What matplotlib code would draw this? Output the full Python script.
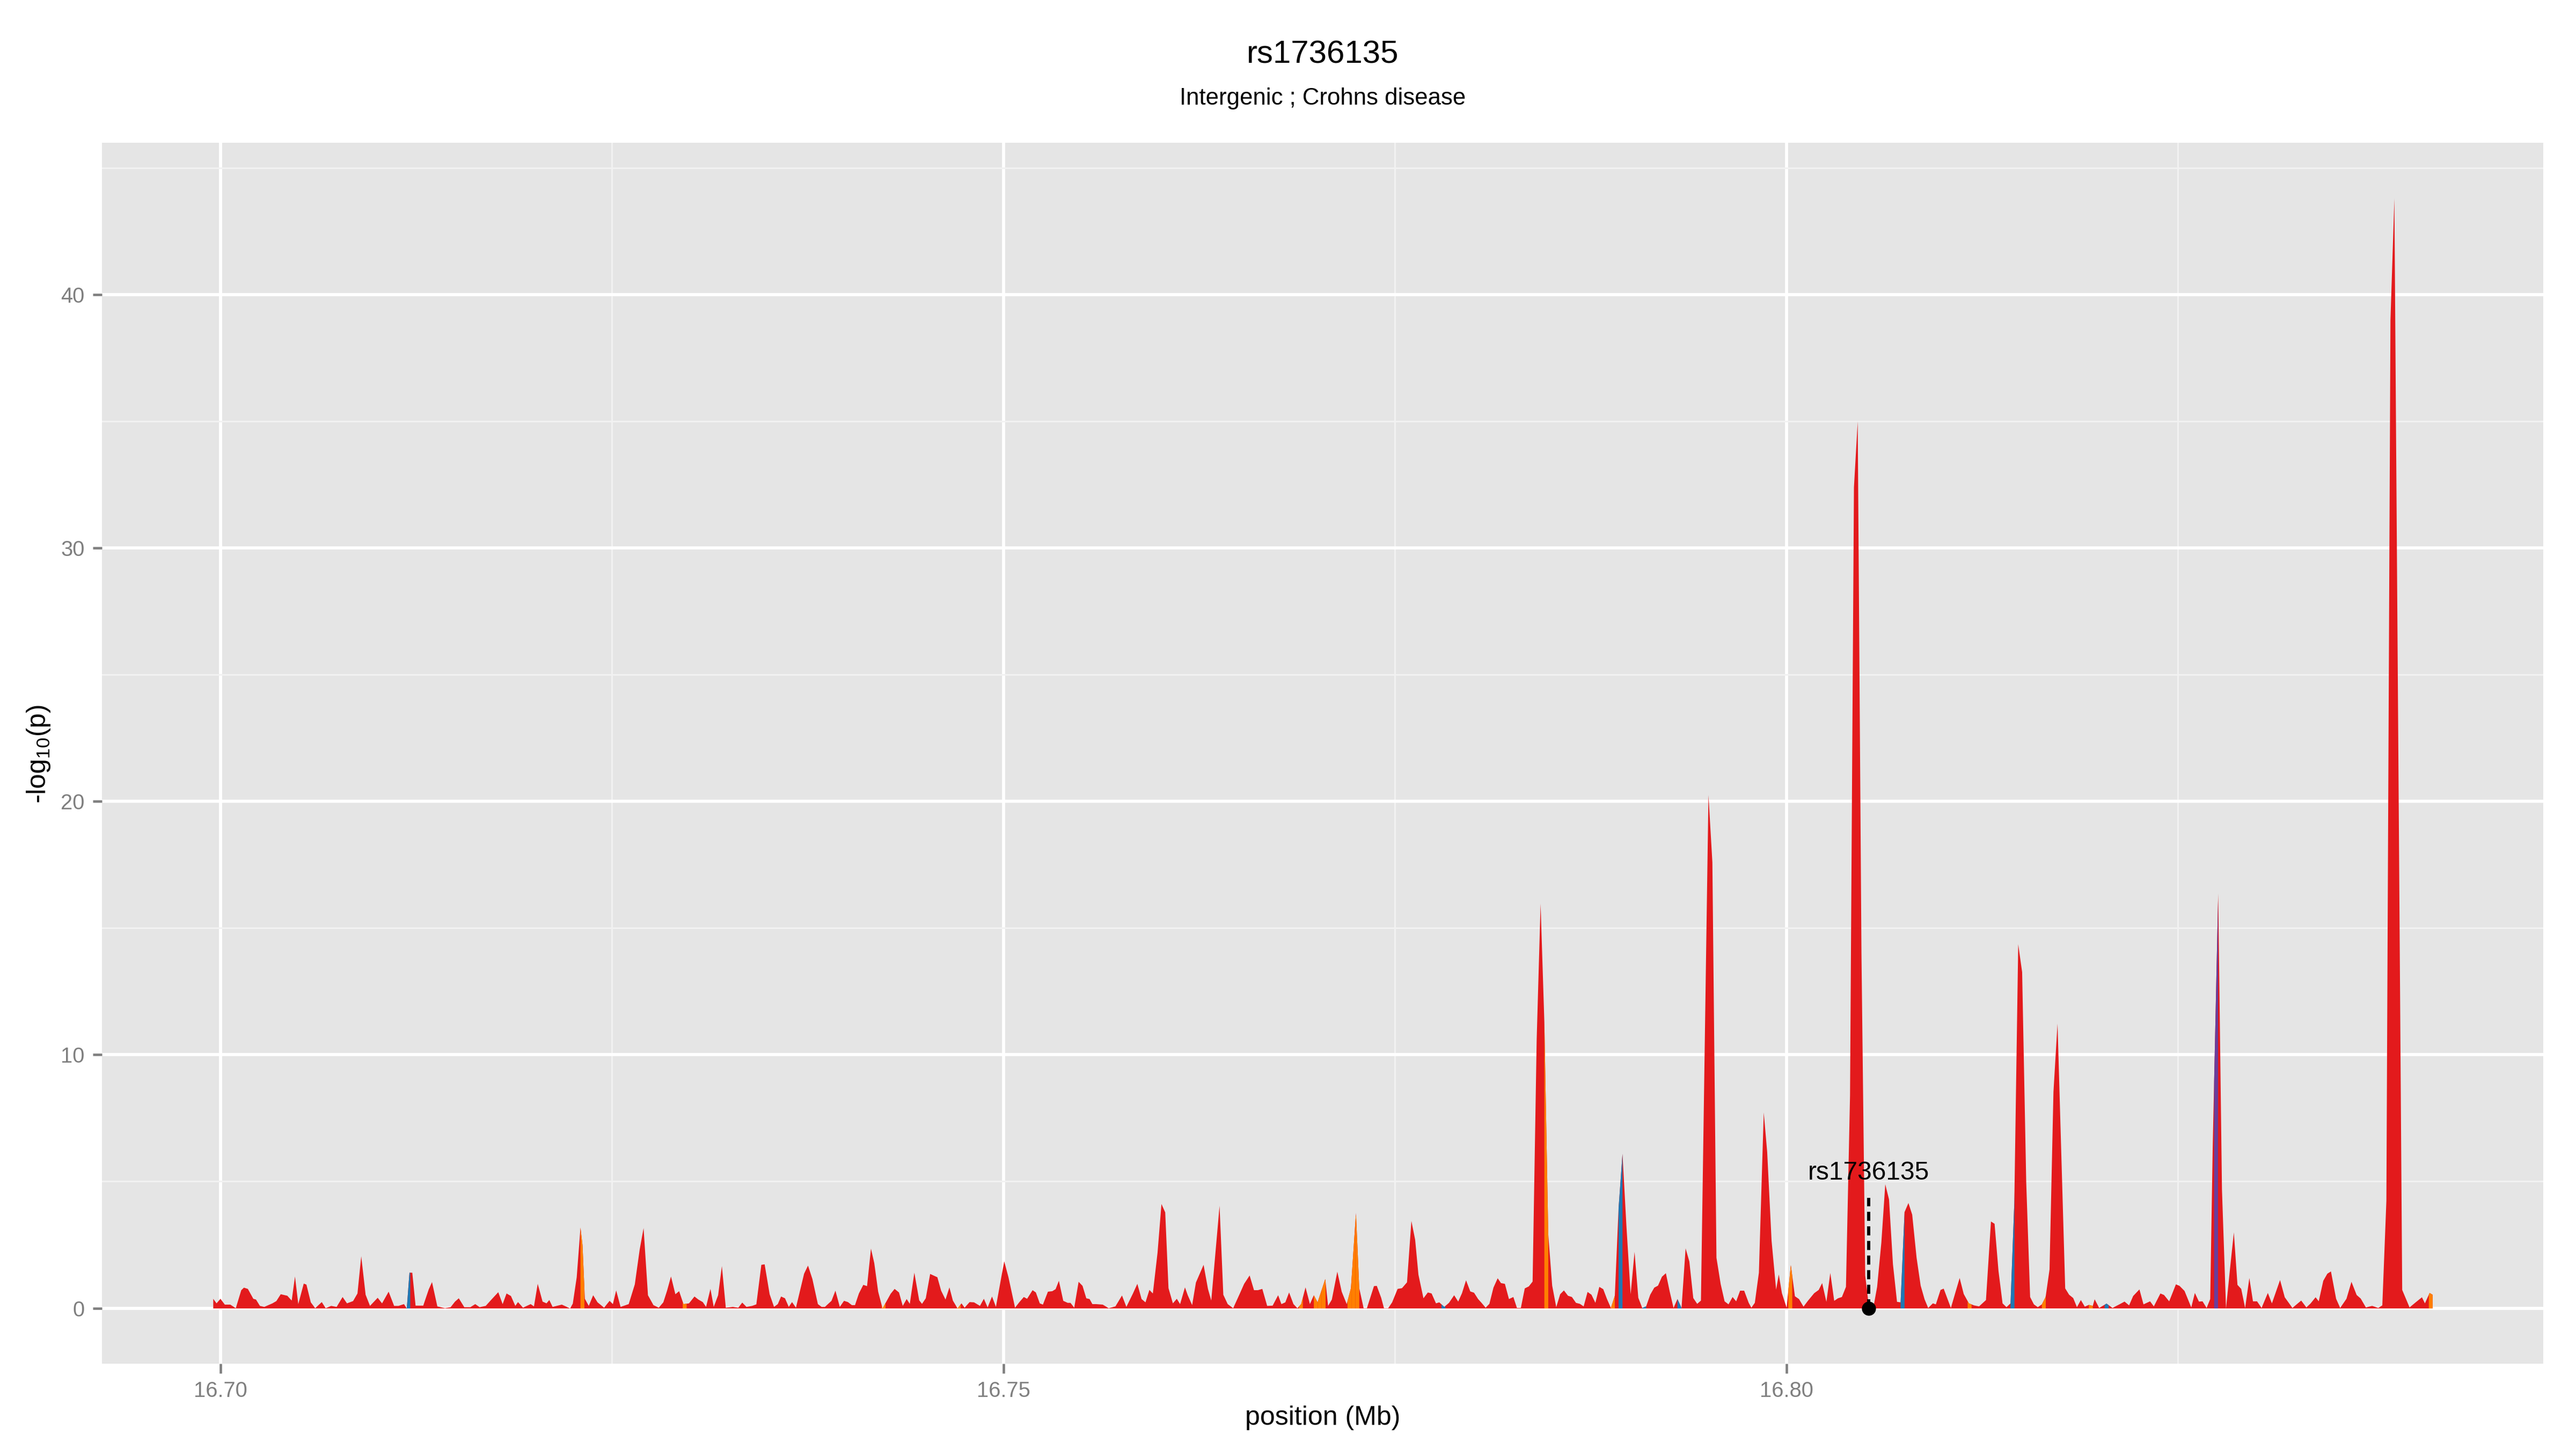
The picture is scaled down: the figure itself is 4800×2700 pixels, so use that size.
import numpy as np
import matplotlib
matplotlib.use("Agg")
import matplotlib.pyplot as plt
from matplotlib.ticker import FixedLocator, FormatStrFormatter

plt.rcParams['font.family'] = ['Liberation Sans', 'DejaVu Sans']
plt.rcParams['mathtext.fontset'] = 'custom'
plt.rcParams['mathtext.rm'] = 'Liberation Sans'
plt.rcParams['mathtext.it'] = 'Liberation Sans'

# positions are given in kb after 16.70 Mb, heights are -log10(p)
start_mb = 16.70
pos_kb = [
    -0.48, -0.27, -0.02, 0.26, 0.61, 0.96, 1.31, 1.48, 1.73, 2.08, 2.25, 2.5, 2.78, 3.3, 3.55,
    3.83, 4.25, 4.53, 4.74, 4.95, 5.3, 5.47, 5.75, 6.03, 6.45, 6.7, 7.05, 7.4, 7.78, 8.06,
    8.45, 8.73, 8.97, 9.25, 9.53, 10.02, 10.3, 10.72, 11.07, 11.35, 11.7, 11.88, 12.05, 12.23, 12.44,
    12.93, 13.28, 13.49, 13.83, 14.32, 14.68, 14.96, 15.2, 15.55, 15.94, 16.25, 16.53, 16.92, 17.27, 17.72,
    18.0, 18.25, 18.53, 18.81, 18.98, 19.3, 19.79, 20.0, 20.24, 20.55, 20.8, 20.98, 21.19, 21.78, 22.31,
    22.48, 22.73, 22.97, 23.1, 23.25, 23.5, 23.78, 24.06, 24.48, 24.83, 25.04, 25.25, 25.53, 26.05, 26.44,
    26.75, 27.0, 27.28, 27.63, 27.97, 28.26, 28.5, 28.75, 29.03, 29.27, 29.55, 29.9, 30.25, 30.5, 30.78,
    30.99, 31.27, 31.48, 31.76, 32.0, 32.25, 32.7, 33.05, 33.3, 33.57, 33.93, 34.2, 34.52, 34.73, 35.05,
    35.33, 35.57, 35.78, 36.03, 36.27, 36.48, 36.73, 37.25, 37.5, 37.78, 38.13, 38.37, 38.58, 39.0, 39.25,
    39.53, 39.8, 40.05, 40.3, 40.5, 40.75, 41.03, 41.27, 41.52, 41.73, 41.98, 42.26, 42.78, 43.03, 43.31,
    43.55, 43.8, 44.0, 44.29, 44.6, 44.78, 45.02, 45.3, 45.76, 46.0, 46.28, 46.53, 46.75, 47.05, 47.3,
    47.5, 47.82, 48.1, 48.48, 48.73, 48.97, 49.25, 49.5, 49.85, 50.03, 50.3, 50.72,
    51.0, 51.28, 51.49, 51.84, 52.05, 52.3, 52.5, 52.82, 53.1, 53.31, 53.52, 53.8, 54.08, 54.26, 54.5,
    54.78, 55.03, 55.27, 55.48, 55.66, 55.9, 56.32, 56.7, 57.13, 57.55, 57.83, 58.25, 58.53, 58.8, 59.05,
    59.3, 59.52, 59.82, 60.07, 60.31, 60.52, 60.8, 61.05, 61.26, 61.57, 61.75, 62.03, 62.27, 62.76, 63.04,
    63.25, 63.53, 63.78, 64.02, 64.3, 64.65, 65.07, 65.35, 65.7, 65.98, 66.23, 66.51, 66.82, 67.17, 67.52,
    67.73, 67.98, 68.22, 68.5, 68.75, 68.99, 69.27, 69.55, 69.8, 70.04, 70.53, 70.71, 70.95, 71.3, 71.58,
    71.9, 72.17, 72.49, 72.7, 72.98, 73.19, 73.64, 73.82, 74.1, 74.28, 74.55, 74.8, 75.15, 75.43, 75.75,
    76.03, 76.27, 76.48, 76.8, 77.08, 77.32, 77.6, 77.81, 78.13,
    78.43, 78.76, 79.02, 79.26, 79.52, 79.79, 80.03, 80.29, 80.51, 80.77, 81.01, 81.27, 81.54, 81.75, 82.0,
    82.26, 82.54, 82.77, 83.02, 83.27, 83.53, 83.77, 84.03, 84.28, 84.52, 84.77, 85.02, 85.28, 85.53, 85.77,
    86.03, 86.28, 86.54, 86.79, 87.03, 87.28, 87.53, 87.78, 88.03, 88.28, 88.52, 88.77, 89.02, 89.26, 89.51,
    89.76, 90.03, 90.28, 90.52, 90.77, 91.02, 91.28, 91.54, 91.78, 92.03, 92.28, 92.52, 92.77, 93.02, 93.28,
    93.54, 93.78, 94.03, 94.28, 94.52, 95.0, 95.25, 95.51, 95.78, 96.03, 96.28, 96.54, 96.77,
    97.02, 97.28, 97.57, 97.74, 97.96, 98.22, 98.53, 98.75, 99.03, 99.32, 99.49, 99.69, 99.99, 100.26, 100.52,
    100.78, 101.07, 101.35, 101.75, 102.04, 102.26, 102.53, 102.78, 103.03, 103.27, 103.52, 103.78, 104.04,
    104.29, 104.53, 104.77, 105.01, 105.24, 105.52, 105.77, 106.04, 106.29, 106.53, 106.78, 107.04, 107.27,
    107.52, 107.77, 108.01, 108.29, 108.55, 108.8, 109.03, 109.33, 109.52, 109.82, 110.02, 110.48, 110.74,
    111.04, 111.3, 111.63, 111.96, 112.28, 112.72, 113.04, 113.27, 113.52, 113.78, 114.03, 114.29, 114.53,
    114.78, 115.03, 115.29, 115.54, 115.78, 116.03, 116.29, 116.53, 116.78, 117.03, 117.29, 117.78, 118.03,
    118.29, 118.53, 118.78, 119.03, 119.29, 119.54, 119.66, 119.95, 120.42, 120.8, 121.24, 121.57, 121.86,
    122.12, 122.52, 122.78, 123.2, 123.44, 123.86, 124.09, 124.42, 124.85, 125.08, 125.4, 125.83, 126.06,
    126.32, 126.55, 126.81, 127.04, 127.2, 127.55, 127.79, 128.05, 128.31, 128.55, 128.78, 129.02, 129.27,
    129.54, 129.77, 130.03, 130.32, 130.72, 130.98, 131.5, 131.8, 132.29, 132.85, 133.18, 133.44, 133.77,
    133.97, 134.26, 134.52, 134.75, 135.08, 135.34, 135.74, 136.06, 136.39, 136.65, 136.98, 137.38, 137.77,
    138.03, 138.29, 138.55, 138.8, 139.3, 139.77, 140.16, 140.56, 140.75, 141.05, 141.24,
]
logp = [
    0.38, 0.2, 0.38, 0.15, 0.15, 0.01, 0.72, 0.82, 0.77, 0.38, 0.35, 0.1, 0.06, 0.2, 0.29,
    0.56, 0.5, 0.31, 1.26, 0.17, 0.98, 0.94, 0.24, 0.01, 0.25, 0.01, 0.1, 0.06, 0.45, 0.2,
    0.29, 0.59, 2.06, 0.54, 0.1, 0.42, 0.2, 0.66, 0.1, 0.1, 0.17, 0.0, 1.41, 1.41, 0.11,
    0.11, 0.75, 1.04, 0.08, 0.01, 0.05, 0.27, 0.4, 0.05, 0.05, 0.17, 0.05, 0.1, 0.34, 0.64,
    0.17, 0.59, 0.49, 0.1, 0.25, 0.03, 0.17, 0.08, 0.97, 0.27, 0.2, 0.33, 0.06, 0.15, 0.0,
    0.19, 1.23, 3.19, 2.5, 0.38, 0.1, 0.52, 0.24, 0.03, 0.3, 0.17, 0.71, 0.06, 0.17, 0.95,
    2.32, 3.17, 0.52, 0.13, 0.03, 0.24, 0.7, 1.26, 0.56, 0.68, 0.17, 0.2, 0.47, 0.35, 0.25,
    0.06, 0.77, 0.06, 0.52, 1.67, 0.03, 0.06, 0.03, 0.23, 0.06, 0.1, 0.16, 1.72, 1.74, 0.56,
    0.06, 0.17, 0.47, 0.4, 0.06, 0.25, 0.03, 1.37, 1.69, 1.16, 0.17, 0.06, 0.06, 0.3, 0.7,
    0.06, 0.3, 0.25, 0.13, 0.13, 0.59, 0.93, 0.88, 2.36, 1.79, 0.66, 0.0, 0.58, 0.77, 0.63,
    0.1, 0.37, 0.18, 1.41, 0.32, 0.18, 0.4, 1.36, 1.23, 0.7, 0.35, 0.83, 0.31, 0.0, 0.2,
    0.03, 0.25, 0.24, 0.1, 0.38, 0.04, 0.47, 0.06, 1.26, 1.86, 1.23, 0.03,
    0.25, 0.45, 0.38, 0.72, 0.63, 0.2, 0.15, 0.66, 0.68, 0.76, 1.09, 0.3, 0.22, 0.22, 0.03,
    1.05, 0.89, 0.4, 0.37, 0.17, 0.17, 0.15, 0.01, 0.08, 0.51, 0.06, 0.59, 0.97, 0.37, 0.24,
    0.73, 0.59, 2.2, 4.12, 3.79, 0.8, 0.2, 0.38, 0.17, 0.83, 0.52, 0.13, 1.02, 1.72, 0.77,
    0.31, 2.29, 4.05, 0.54, 0.17, 0.01, 0.58, 0.97, 1.3, 0.72, 0.72, 0.77, 0.1, 0.11, 0.52,
    0.17, 0.24, 0.63, 0.17, 0.01, 0.17, 0.83, 0.17, 0.52, 0.24, 1.16, 0.1, 0.35, 1.45, 0.66,
    0.17, 0.8, 3.77, 0.8, 0.01, 0.01, 0.88, 0.89, 0.42, 0.01, 0.01, 0.24, 0.77, 0.8, 1.03,
    3.45, 2.71, 1.33, 0.4, 0.63, 0.59, 0.2, 0.24, 0.06,
    0.22, 0.52, 0.27, 0.6, 1.11, 0.67, 0.62, 0.37, 0.22, 0.03, 0.18, 0.82, 1.19, 1.0, 0.97,
    0.37, 0.45, 0.02, 0.02, 0.79, 0.87, 1.06, 10.6, 15.97, 11.3, 2.92, 0.9, 0.05, 0.56, 0.71,
    0.5, 0.45, 0.22, 0.18, 0.08, 0.65, 0.54, 0.22, 0.85, 0.76, 0.37, 0.02, 0.5, 3.95, 6.1,
    3.26, 0.56, 2.23, 0.42, 0.02, 0.08, 0.54, 0.82, 0.9, 1.25, 1.39, 0.68, 0.02, 0.37, 0.02,
    2.37, 1.85, 0.41, 0.18, 0.31, 20.26, 17.6, 2.0, 0.96, 0.28, 0.16, 0.45, 0.28,
    0.7, 0.7, 0.22, 0.03, 0.22, 1.41, 7.73, 6.17, 2.67, 0.74, 1.34, 0.6, 0.03, 1.71, 0.48,
    0.37, 0.07, 0.3, 0.6, 0.73, 1.0, 0.26, 1.4, 0.3, 0.4, 0.45, 0.85, 8.4,
    32.4, 35.0, 14.0, 1.3, 0.1, 0.0, 0.85, 2.6, 4.9, 4.3, 1.75, 0.26, 0.24,
    3.8, 4.16, 3.7, 2.0, 0.9, 0.36, 0.02, 0.2, 0.16, 0.73, 0.78, 0.02, 0.57,
    1.2, 0.57, 0.2, 0.12, 0.08, 0.33, 3.43, 3.34, 1.48, 0.2, 0.05, 0.2, 4.18,
    14.37, 13.27, 5.0, 0.45, 0.16, 0.05, 0.16, 0.45, 1.54, 8.54, 11.24, 0.79, 0.54,
    0.41, 0.05, 0.33, 0.07, 0.14, 0.1, 0.36, 0.02, 0.19, 0.02, 0.16, 0.27, 0.12,
    0.49, 0.75, 0.16, 0.28, 0.08, 0.59, 0.53, 0.28, 0.95, 0.89, 0.69, 0.04, 0.61,
    0.27, 0.28, 0.02, 0.37, 6.4, 16.37, 4.7, 0.0, 1.6, 3.0, 0.93, 0.77, 0.02,
    1.2, 0.28, 0.28, 0.02, 0.61, 0.2, 1.12, 0.44, 0.02, 0.31, 0.04, 0.19, 0.44,
    0.28, 1.09, 1.37, 1.46, 0.38, 0.02, 0.38, 1.05, 0.53, 0.39, 0.04, 0.1, 0.02,
    0.12, 4.25, 39.0, 43.8, 0.73, 0.04, 0.24, 0.44, 0.2, 0.61, 0.54,
]

# SNPs drawn in another annotation colour (start of the strip, kb)
strip_kb = [11.85, 22.97, 29.5, 42.2, 47.0, 68.85, 69.8, 70.05, 70.3, 71.95, 72.2, 72.45,
            77.95, 84.52, 88.77, 89.26, 90.77, 93.02, 100.1, 107.27, 111.55, 114.29,
            116.29, 119.29, 120.3, 127.29, 141.0]
strip_cat = ['blue', 'orange', 'orange', 'orange', 'orange', 'orange', 'orange', 'orange', 'orange',
             'orange', 'orange', 'orange', 'blue', 'orange', 'orange', 'blue', 'blue', 'blue',
             'orange', 'blue', 'orange', 'blue', 'orange', 'orange', 'blue', 'purple', 'orange']

snp_name = 'rs1736135'
snp_kb = 105.24
snp_label_y = 5.08
snp_line_top = 4.35

title = 'rs1736135'
subtitle = 'Intergenic ; Crohns disease'

colours = {'red': '#E31A1C', 'blue': '#1F78B4', 'orange': '#FF7F00', 'purple': '#6A3D9A'}

pos = start_mb + np.array(pos_kb) / 1000.0
y = np.array(logp)

fig = plt.figure(figsize=(16, 9), dpi=300)
ax = fig.add_axes([0.0396, 0.0589, 0.9477, 0.8426])
ax.set_facecolor('#E5E5E5')

ax.fill_between(pos, y, 0, color=colours['red'], linewidth=0, zorder=3)

strip_w = 0.25 / 1000.0
for s, c in zip(strip_kb, strip_cat):
    x0 = start_mb + s / 1000.0
    xs = np.linspace(x0, min(x0 + strip_w, pos[-1]), 12)
    ax.fill_between(xs, np.interp(xs, pos, y), 0, color=colours[c], linewidth=0, zorder=4)

snp_x = start_mb + snp_kb / 1000.0
ax.vlines(snp_x, 0, snp_line_top, colors='black', linestyles=(0, (2.8, 1.7)), linewidth=1.45, zorder=5)
ax.plot([snp_x], [0], 'o', color='black', markersize=5.3, zorder=6)
ax.text(snp_x, snp_label_y, snp_name, ha='center', va='baseline', fontsize=11.5, color='black', zorder=7)

# ggplot-like expansion of 5%
xr = pos.max() - pos.min()
ax.set_xlim(pos.min() - 0.05 * xr, pos.max() + 0.05 * xr)
yr = y.max() - 0
ax.set_ylim(-0.05 * yr, y.max() + 0.05 * yr)

ax.xaxis.set_major_locator(FixedLocator([16.70, 16.75, 16.80]))
ax.xaxis.set_minor_locator(FixedLocator([16.725, 16.775, 16.825]))
ax.xaxis.set_major_formatter(FormatStrFormatter('%.2f'))
ax.yaxis.set_major_locator(FixedLocator([0, 10, 20, 30, 40]))
ax.yaxis.set_minor_locator(FixedLocator([5, 15, 25, 35, 45]))

ax.grid(which='major', color='white', linewidth=1.4, zorder=0)
ax.grid(which='minor', color='#F2F2F2', linewidth=0.7, zorder=0)
ax.set_axisbelow(True)
for sp in ax.spines.values():
    sp.set_visible(False)

ax.tick_params(which='major', length=4.2, width=1.1, color='#7F7F7F', labelcolor='#7F7F7F',
               labelsize=9.6, pad=3.5)
ax.tick_params(which='minor', length=0)

fig.text(0.5135, 0.9563, title, ha='center', va='baseline', fontsize=14.4)
fig.text(0.5135, 0.9278, subtitle, ha='center', va='baseline', fontsize=10.5)
fig.text(0.5135, 0.0167, 'position (Mb)', ha='center', va='baseline', fontsize=12)
fig.text(0.015, 0.4795, r'-log$_{10}$(p)', ha='center', va='center', rotation=90, fontsize=12)

fig.savefig('out.png', dpi=300, facecolor='white')
